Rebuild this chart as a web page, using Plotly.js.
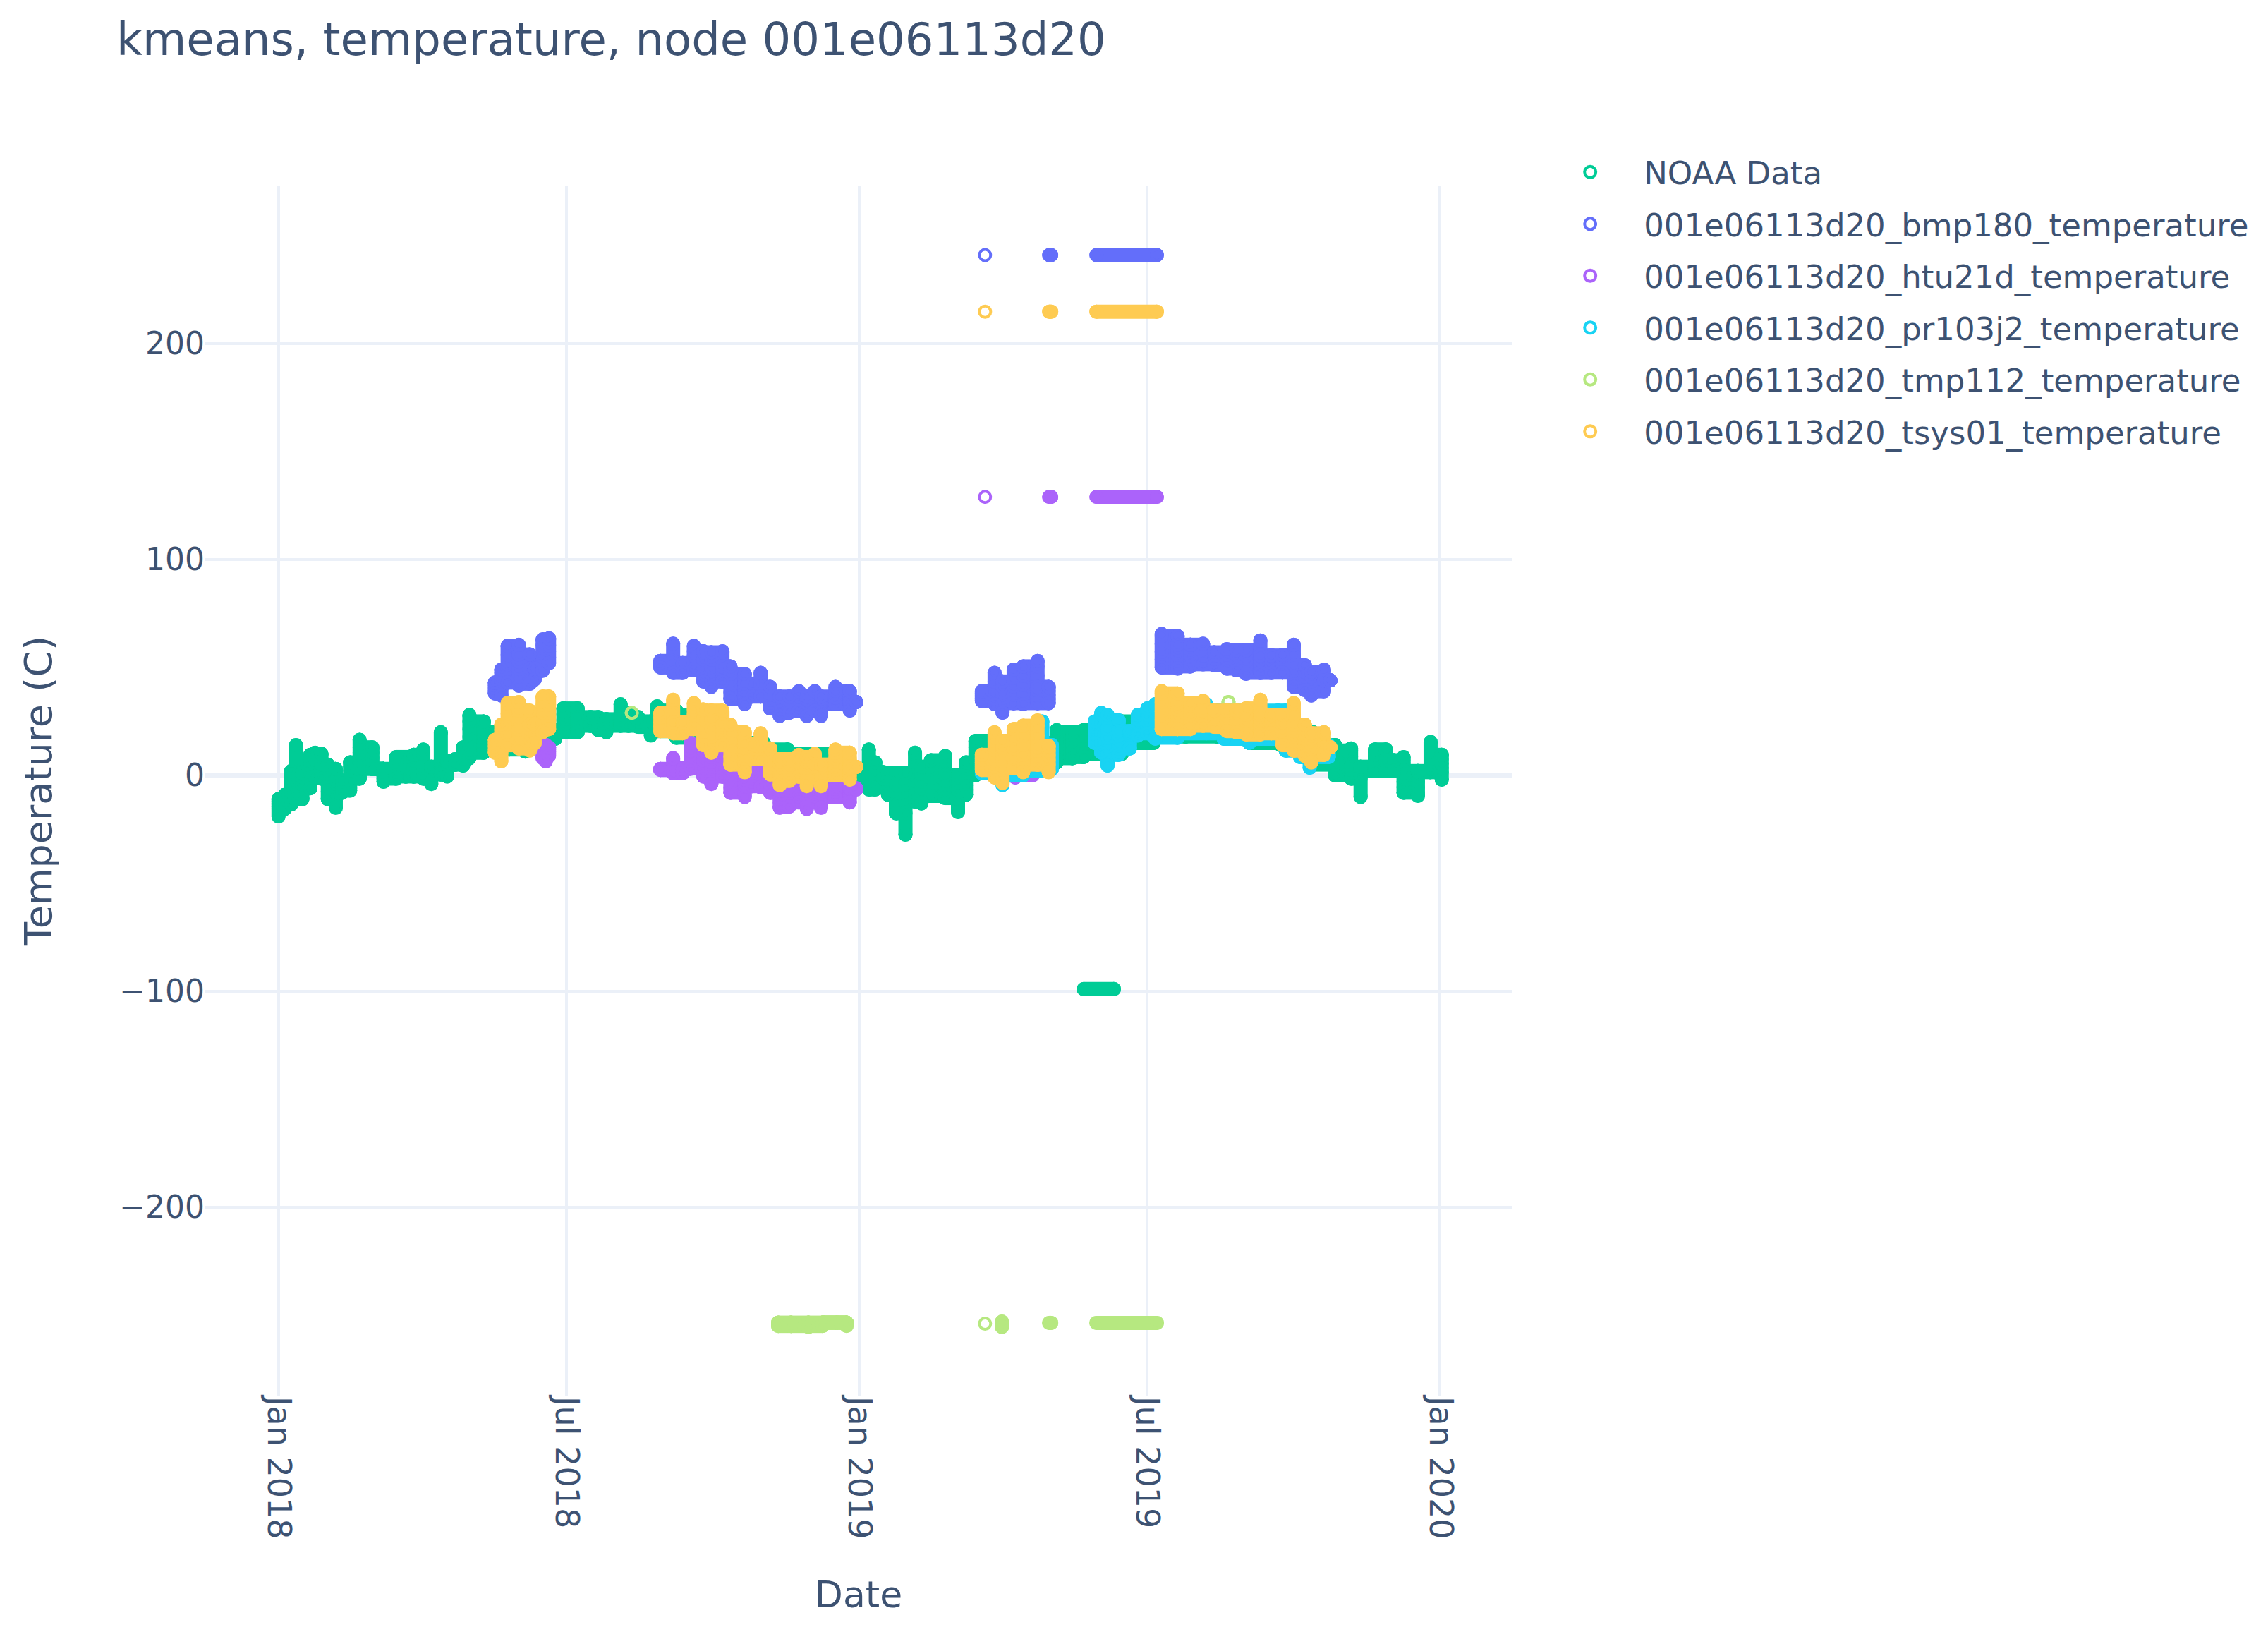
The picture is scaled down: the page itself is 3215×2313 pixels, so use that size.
<!DOCTYPE html>
<html><head><meta charset="utf-8">
<script src="https://cdn.plot.ly/plotly-3.0.1.min.js"></script>
<style>html,body{margin:0;padding:0;background:#fff}</style></head>
<body><div id="chart" style="width:3215px;height:2313px"></div>
<script>
// Values. Days are counted from 2018-01-01.
// Each series is sampled as a band: at each day, the highest and lowest reading seen.
const noaaDays=[0,4,8,11,15,20,23,27,31,36,40,45,51,59,66,74,80,85,91,96,102,106,111,116,120,129,136,145,155,165,174,179,188,196,201,206,215,220,226,234,238,250,260,275,290,305,320,335,350,363,371,375,380,383,388,394,400,404,410,419,427,432,438,450,465,480,489,499,506,513,530,550,570,590,610,630,650,664,671,674,680,689,696,701,707,716,724,731];
const noaaHigh=[-11,-9,2,14,1,9.5,10.5,10,5,3,-2.5,6,16.5,13,3,8.5,8.5,9.5,12,4,20,6.5,7.5,13,28,25,20,28,30,28,21,31,31,27,27,26,33,29,27,25,32,30,28,25,20,15,12,10,10,-1.5,12,6,1.5,1,1,1,10.5,4,7,9,0,6,16,18,15,15,21,20,21,22.5,25,28,30,30,28,25,20,14,11.5,12.5,4,12,12,7,8.5,2,15.5,9.5];
const noaaLow=[-19,-15.5,-13.5,-11,-11,-6,-0.5,-1.5,-11,-15,-8,-7,-1.5,3,-3,-1.5,-0.5,-0.5,-1.5,-4,0.5,-0.5,5,4.5,8,10.5,12,12,11,15,17,20,20,23,21,20,23,23,22.5,18.5,20.5,17.5,15,8,5,0,-2,-3,-3,-1.5,-6.5,-6.5,-1.5,-9,-17.5,-27.5,-12,-13,-9.5,-10.5,-17,-9,0,4,5,5,6,8,8.5,10,10,15,18,18,15,14,5,0,0,-1.5,-10,2,2,2,-8,-9.5,1.5,-2];
const noaaFlatDay=[506], noaaFlatEnd=[525], noaaFlatValue=[-99];

const bmpDays=[136,140,144,151,158,161,166,170,240,248,254,261,267,272,279,284,293,298,303,309,315,321,327,332,337,341,350,359,363,442,450,455,462,468,477,484,555,565,573,581,588,596,602,608,617,624,631,638,645,649,657,661];
const bmpHigh=[43,49,60,60.5,56,49.5,63,63.5,53,61,52,60,57.5,57,57.5,50.5,47,42.5,47.5,41,36.5,36.5,39,36.5,39,36.5,41,39,34,39,47.5,43.5,49,50.5,53,41,65.5,64.5,60.5,61,57,58.5,58,58,62.5,55.5,55.8,60.5,51,48,49,44];
const bmpLow=[38,37,43,41.5,42.5,44.5,48.5,52,50,47.5,47.5,49,43.5,41,43.5,35.5,33,36.5,36.5,31,27.5,29,30,27.5,30,27.5,33,30,34,34.5,33,29,33.5,33,33.5,33.5,50,49.5,50.5,51.5,51,49.5,48.7,47,47.5,47.5,47.6,41,39.5,37,39,44];
const bmpFlatDay=[444,484.3,514], bmpFlatEnd=[444,485.6,552], bmpFlatValue=[241,241,241];

const htuDays=[166,168,170,240,248,254,259,267,272,279,284,293,298,303,309,315,321,327,332,337,341,350,359,363,463,474];
const htuHigh=[14,14,13,3,8,3,15,11.5,9.5,8.5,3,1,3,3,-2,-7,-7,-5,-7,-5,-7,-3,-5,-6,0,1];
const htuLow=[8,6.5,9,2.5,1,1,3.5,-0.5,-4,-0.5,-8,-10,-5,-5.5,-8,-15,-14.5,-12.5,-15.5,-12.5,-15,-10,-12.5,-6.5,-1,1];
const htuFlatDay=[444,484.3,514], htuFlatEnd=[444,485.6,552], htuFlatValue=[129,129,129];

const prDays=[442,455,468,480,486,513,517,521,528,535,540,546,551,565,583,594,610,628,633,642,648,660];
const prHigh=[9,15,22,25,14,25,29,28,25.5,20.5,28,31,33,33,33,30,30,30,30,22,19,14];
const prLow=[1,-4.5,0,2,3,15,10.5,4.5,9.5,12.5,18.5,19.5,17,17.5,19.5,17,15,17,11.5,8.5,3.5,8.5];
const prFlatDay=[], prFlatEnd=[], prFlatValue=[];

const tmpDays=[222,314,322,333,342,351,357,454.6,597];
const tmpHigh=[29,-253.5,-253.5,-253.5,-253.5,-253.5,-253.5,-253,34];
const tmpLow=[29,-255,-255,-255.5,-255,-253.5,-255,-255.5,34];
const tmpFlatDay=[444,484.3,514], tmpFlatEnd=[444,485.6,552], tmpFlatValue=[-254,-253.6,-253.6];

const tsysDays=[136,140,144,151,158,161,166,170,240,248,254,261,267,272,279,284,293,298,303,309,315,321,327,332,337,341,350,359,363,442,450,455,462,468,477,484,555,565,573,581,588,596,602,608,617,624,631,638,645,649,657,661];
const tsysHigh=[16.5,23.5,33.5,34,30,23.5,36.5,36.5,29,35,24.5,33.5,30.5,30,30,23.5,20,14.5,19.5,12.5,7.5,7.5,9.5,8.5,10,5,12,10.5,4,9.5,20,16,21.5,23,25.5,13.5,39,38,33.5,34.5,30,30,30,31,35,28,28,33.5,23.5,19.5,20,13];
const tsysLow=[10.5,6.5,14,12.5,11.5,15,20,21.5,20.5,19.5,19.5,21.5,14,10.5,14,5,1.5,7.5,7.5,0.5,-4.5,-2.5,-0.5,-5,-1,-5,0,-2,4,2.5,-1,-3.5,3.5,1.5,5,1.5,21.5,21.5,21.5,23,22.5,20.5,20,19,19,19.5,14,11.5,9,6,9.5,13];
const tsysFlatDay=[444,484.3,514], tsysFlatEnd=[444,485.6,552], tsysFlatValue=[214.8,214.8,214.8];

const seriesNames=["NOAA Data","001e06113d20_bmp180_temperature","001e06113d20_htu21d_temperature","001e06113d20_pr103j2_temperature","001e06113d20_tmp112_temperature","001e06113d20_tsys01_temperature"];
const seriesColors=["#00cc96","#636efa","#ab63fa","#19d3f3","#b6e880","#fecb52"];
const xTickStart="2018-01-01", xTickEvery="M6", xRange=["2017-11-16","2020-02-15"], yRange=[-287.3,273.2];

const DAY=864e5, T0=Date.UTC(2018,0,1), BREAK_DAYS=25;
const toDate=d=>new Date(T0+d*DAY).toISOString().slice(0,19);
const inputs=[
 [noaaDays,noaaHigh,noaaLow,noaaFlatDay,noaaFlatEnd,noaaFlatValue],
 [bmpDays,bmpHigh,bmpLow,bmpFlatDay,bmpFlatEnd,bmpFlatValue],
 [htuDays,htuHigh,htuLow,htuFlatDay,htuFlatEnd,htuFlatValue],
 [prDays,prHigh,prLow,prFlatDay,prFlatEnd,prFlatValue],
 [tmpDays,tmpHigh,tmpLow,tmpFlatDay,tmpFlatEnd,tmpFlatValue],
 [tsysDays,tsysHigh,tsysLow,tsysFlatDay,tsysFlatEnd,tsysFlatValue]
];
const traces=[];
inputs.forEach(([days,hi,lo,fd,fe,fv],i)=>{
  const col=seriesColors[i];
  const mx=[],my=[];          // the readings, as open rings
  const bx=[],by=[];          // the solid runs that the overlapping rings form
  const seg=(x0,y0,x1,y1)=>{bx.push(toDate(x0),toDate(x1),null);by.push(y0,y1,null);};
  days.forEach((d,k)=>{
    mx.push(toDate(d),toDate(d)); my.push(hi[k],lo[k]);
    const prev=k>0 && d-days[k-1]<=BREAK_DAYS, next=k<days.length-1 && days[k+1]-d<=BREAK_DAYS;
    if(prev||next||hi[k]!==lo[k]) seg(d,hi[k],d,lo[k]);
    if(next){
      const top=Math.min(hi[k],hi[k+1]), bot=Math.max(lo[k],lo[k+1]);
      [0,0.25,0.5,0.75,1].forEach(f=>{const y=bot+(top-bot)*f; seg(d,y,days[k+1],y);});
    }
  });
  fd.forEach((d,k)=>{
    mx.push(toDate(d)); my.push(fv[k]);
    if(fe[k]>d){ mx.push(toDate(fe[k])); my.push(fv[k]); seg(d,fv[k],fe[k],fv[k]); }
  });
  traces.push({type:"scatter",mode:"lines+markers",showlegend:false,hoverinfo:"skip",legendgroup:"g"+i,name:seriesNames[i],x:bx,y:by,
    connectgaps:false,line:{color:col,width:20,simplify:false},marker:{symbol:"circle",size:16,color:col,line:{width:4,color:col}}});
  traces.push({type:"scatter",mode:"markers",name:seriesNames[i],legendgroup:"g"+i,x:mx,y:my,
    marker:{symbol:"circle-open",size:16,color:col,line:{width:4,color:col}}});
});
const FONT='"DejaVu Sans", Verdana, sans-serif', INK="#3d5272", GRID="#EBF0F8";
const layout={
  width:3215,height:2313,paper_bgcolor:"#fff",plot_bgcolor:"#fff",
  margin:{l:291,r:1072,t:263,b:335,autoexpand:false},
  font:{family:FONT,color:INK,size:44},
  title:{text:"kmeans, temperature, node 001e06113d20",font:{size:64,color:INK,family:FONT},x:0.0513,xanchor:"left",y:0.976,yanchor:"middle"},
  xaxis:{type:"date",range:xRange,tick0:xTickStart,dtick:xTickEvery,tickformat:"%b %Y",tickangle:90,
    gridcolor:GRID,gridwidth:4,showline:false,zeroline:false,automargin:false,ticks:"",
    tickfont:{size:46,family:FONT,color:INK},title:{text:"Date",font:{size:52,family:FONT,color:INK},standoff:60}},
  yaxis:{range:yRange,tick0:0,dtick:100,gridcolor:GRID,gridwidth:4,zeroline:true,zerolinecolor:GRID,zerolinewidth:6,automargin:false,ticks:"",
    tickfont:{size:44,family:FONT,color:INK},title:{text:"Temperature (C)",font:{size:54,family:FONT,color:INK},standoff:78}},
  legend:{x:1.019,xanchor:"left",y:1.032,yanchor:"top",itemwidth:142,traceorder:"grouped",tracegroupgap:12,font:{size:45,family:FONT,color:INK},bgcolor:"rgba(0,0,0,0)"},
  showlegend:true,hovermode:"closest"
};
Plotly.newPlot("chart",traces,layout,{displayModeBar:false,responsive:false});
</script></body></html>
